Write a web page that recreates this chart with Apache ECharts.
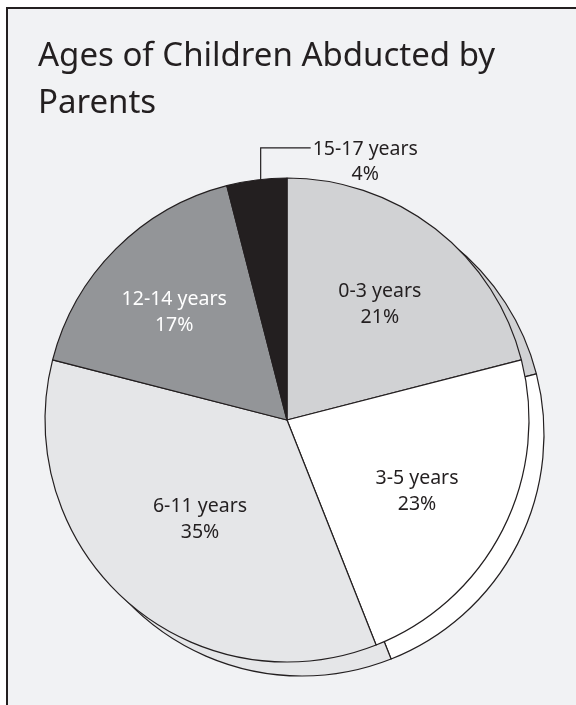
<!DOCTYPE html>
<html>
<head>
<meta charset="utf-8">
<script src="https://cdn.jsdelivr.net/npm/echarts@6/dist/echarts.min.js"></script>
<style>
  html, body { margin: 0; padding: 0; background: #ffffff; }
  #frame { position: absolute; left: 6px; top: 7px; width: 600px; height: 720px;
           background: #f1f2f4; border-left: 2px solid #231f20; border-top: 2px solid #231f20; }
  #chart { position: absolute; left: 0; top: 0; width: 576px; height: 705px; }
</style>
</head>
<body>
<div id="frame"></div>
<div id="chart"></div>
<script>
const categories = ['0-3 years', '3-5 years', '6-11 years', '12-14 years', '15-17 years'];
const values = [21, 23, 35, 17, 4];
const sliceColors = ['#d1d2d4', '#ffffff', '#e5e6e8', '#939598', '#231f20'];
const labelColors = ['#231f20', '#231f20', '#231f20', '#ffffff', '#231f20'];
const labelNudges = [[2, 2], [-2, 4], [11, -12], [-8, -3], [0, 0]];

const FONT = '"Noto Sans", sans-serif';
const INK = '#231f20';
const R = 242;
const CX = 287, CY = 420;
const SHADOW_DX = 15, SHADOW_DY = 14;

const chart = echarts.init(document.getElementById('chart'), null, { renderer: 'canvas' });

const option = {
  backgroundColor: 'transparent',
  animation: false,
  title: {
    text: 'Ages of Children Abducted by\nParents',
    left: 38,
    top: 33,
    padding: 0,
    textStyle: { fontFamily: FONT, fontSize: 33, fontWeight: 'normal', color: INK, lineHeight: 47 }
  },
  series: [
    {
      // offset back copy giving the depth effect
      type: 'pie',
      z: 1,
      silent: true,
      center: [CX + SHADOW_DX, CY + SHADOW_DY],
      radius: [0, R],
      startAngle: 90,
      clockwise: true,
      label: { show: false },
      labelLine: { show: false },
      itemStyle: { borderColor: INK, borderWidth: 1.2 },
      data: categories.map((name, i) => ({
        name: name, value: values[i], itemStyle: { color: sliceColors[i] }
      }))
    },
    {
      type: 'pie',
      z: 2,
      silent: true,
      center: [CX, CY],
      radius: [0, R],
      startAngle: 90,
      clockwise: true,
      avoidLabelOverlap: false,
      itemStyle: { borderColor: INK, borderWidth: 1.2 },
      label: { show: false },
      labelLine: { show: false },
      data: categories.map((name, i) => ({
        name: name,
        value: values[i],
        itemStyle: { color: sliceColors[i] },
        label: i === 4 ? {
          show: true, position: 'outside', formatter: '{b}\n{c}%',
          fontFamily: FONT, fontSize: 19.5, lineHeight: 25, color: INK, align: 'center'
        } : { show: false },
        labelLine: i === 4 ? { show: true, length: 32, length2: 50, lineStyle: { color: INK, width: 1.2 } } : { show: false }
      })),
      labelLayout: function (p) {
        if (p.dataIndex !== 4 || !p.labelLinePoints) return;
        const a = p.labelLinePoints[0];
        const lx = a[0] + 4;
        const top = a[1] - 32;
        const end = lx + 50;
        return {
          x: end + 2 + p.labelRect.width / 2,
          y: top - 11,
          align: 'center',
          verticalAlign: 'top',
          labelLinePoints: [[lx, a[1]], [lx, top], [end, top]]
        };
      }
    },
    {
      // transparent label carrier so inside labels sit further out
      type: 'pie',
      z: 3,
      silent: true,
      center: [CX, CY],
      radius: [R * 0.2, R],
      startAngle: 90,
      clockwise: true,
      avoidLabelOverlap: false,
      itemStyle: { color: 'transparent', borderWidth: 0 },
      label: {
        show: true, position: 'inside', formatter: '{b}\n{c}%',
        fontFamily: FONT, fontSize: 19.5, lineHeight: 26
      },
      labelLine: { show: false },
      data: categories.map((name, i) => ({
        name: name,
        value: values[i],
        itemStyle: { color: 'transparent' },
        label: i === 4 ? { show: false } : { color: labelColors[i] }
      })),
      labelLayout: function (p) {
        const n = labelNudges[p.dataIndex];
        return { dx: n[0], dy: n[1] };
      }
    }
  ]
};
chart.setOption(option);
</script>
</body>
</html>
